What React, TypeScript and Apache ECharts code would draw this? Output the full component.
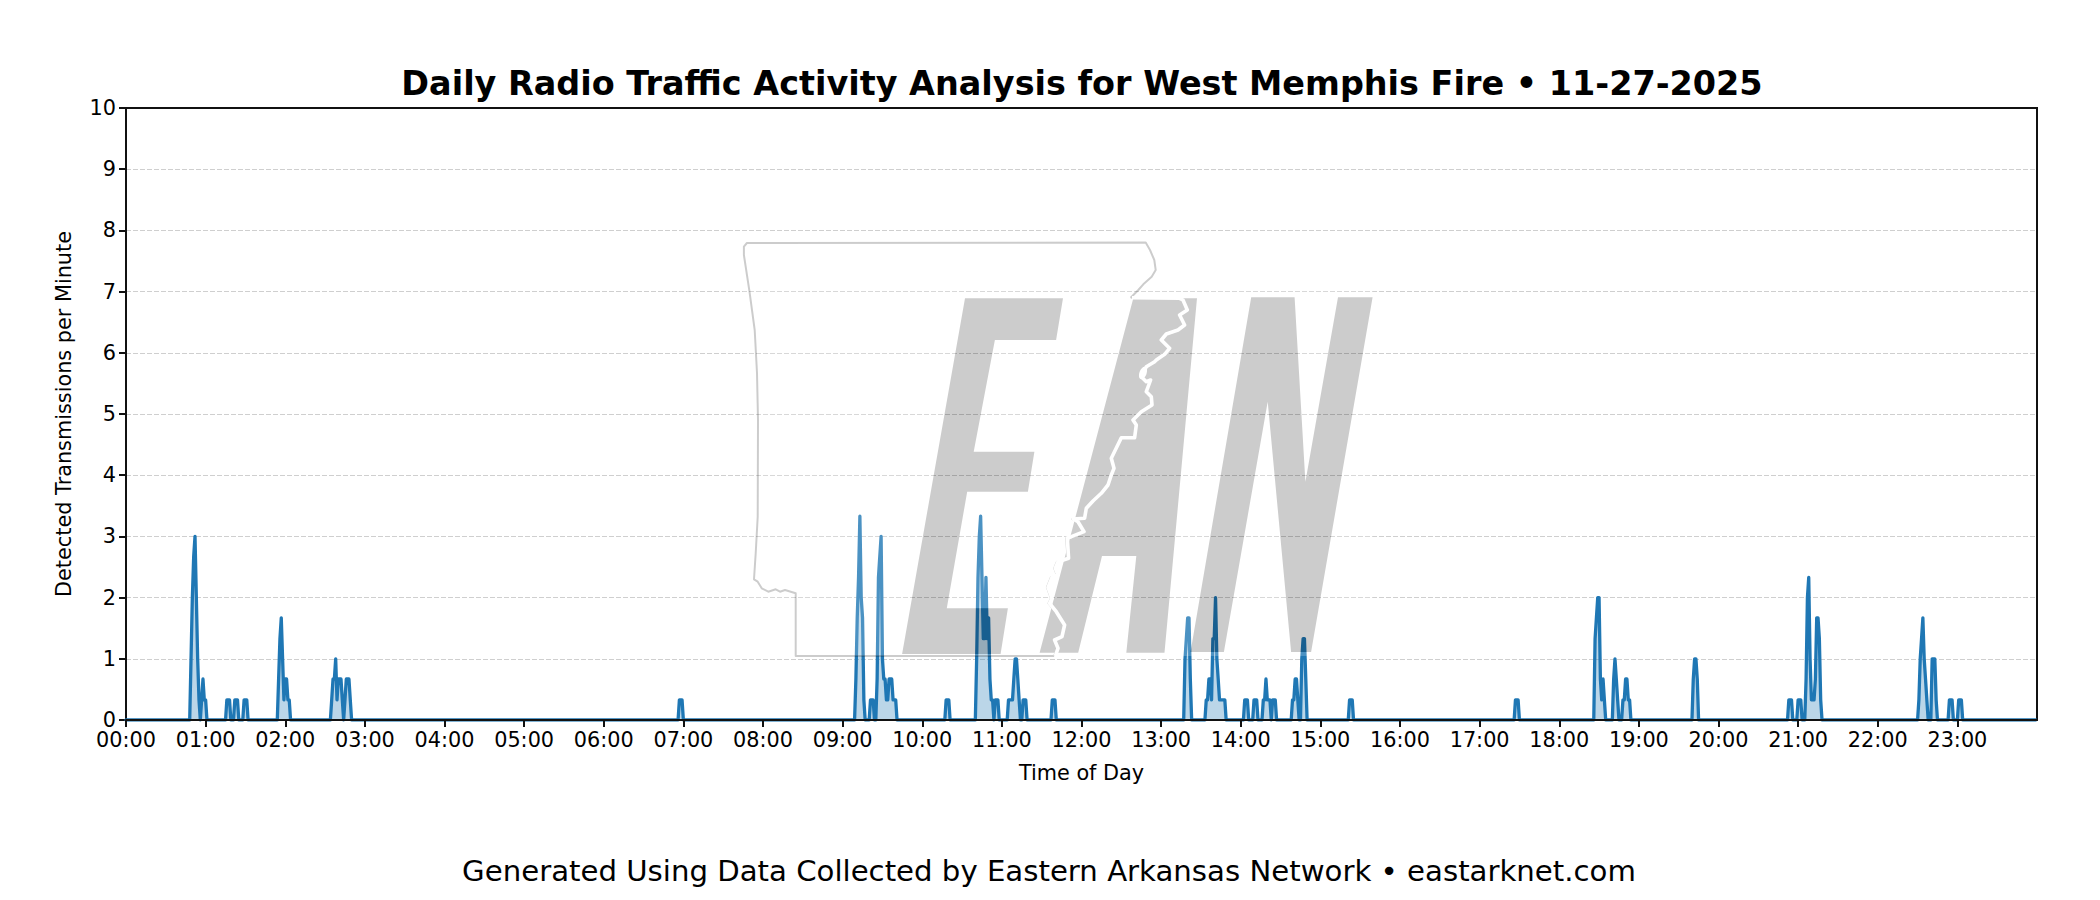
import React, { useEffect, useRef } from "react";
import * as echarts from "echarts";

const titleText = "Daily Radio Traffic Activity Analysis for West Memphis Fire • 11-27-2025";
const footerText = "Generated Using Data Collected by Eastern Arkansas Network • eastarknet.com";
const xName = "Time of Day";
const yName = "Detected Transmissions per Minute";
const yMax = 10;
const tickLabels = ["00:00","01:00","02:00","03:00","04:00","05:00","06:00","07:00","08:00","09:00","10:00","11:00","12:00","13:00","14:00","15:00","16:00","17:00","18:00","19:00","20:00","21:00","22:00","23:00"];

// [minute of day, transmissions per minute]
const overnight = [
  [0,0],[48,0],[49,1],[50,2],[51,2.67],[52,3],[53,2],[54,1],[55,0.33],[56,0],[57,0.33],[58,0.67],[59,0.33],[60,0.33],[61,0],
  [75,0],[76,0.33],[77,0.33],[78,0.33],[79,0],[81,0],[82,0.33],[83,0.33],[84,0.33],[85,0],[88,0],[89,0.33],[90,0.33],[91,0.33],[92,0],
  [114,0],[115,0.67],[116,1.33],[117,1.67],[118,1],[119,0.33],[120,0.67],[121,0.67],[122,0.33],[123,0.33],[124,0],
  [154,0],[155,0.33],[156,0.67],[157,0.67],[158,1],[159,0.33],[160,0.67],[161,0.67],[162,0.67],[163,0.33],[164,0],[165,0.33],[166,0.67],[167,0.67],[168,0.67],[169,0.33],[170,0],
  [416,0],[417,0.33],[418,0.33],[419,0.33],[420,0],
];
const morning = [
  [549,0],[550,0.67],[551,1.67],[552,2.33],[553,3.33],[554,2],[555,1.67],[556,0.33],[557,0],
  [560,0],[561,0.33],[562,0.33],[563,0.33],[564,0],
  [565,0],[566,0.67],[567,2.33],[568,2.67],[569,3],[570,1],[571,0.67],[572,0.67],[573,0.33],[574,0.33],[575,0.67],[576,0.67],[577,0.67],[578,0.33],[579,0.33],[580,0.33],[581,0],
  [617,0],[618,0.33],[619,0.33],[620,0.33],[621,0],
  [640,0],[641,1],[642,2.33],[643,3],[644,3.33],[645,2.33],[646,1.33],[647,1.33],[648,2.33],[649,1.33],[650,1.67],[651,0.67],[652,0.33],[653,0.33],[654,0],[655,0.33],[656,0.33],[657,0.33],[658,0],
  [664,0],[665,0.33],[666,0.33],[667,0.33],[668,0.33],[669,0.67],[670,1],[671,1],[672,0.67],[673,0.33],[674,0],[675,0],[676,0.33],[677,0.33],[678,0.33],[679,0],
  [697,0],[698,0.33],[699,0.33],[700,0.33],[701,0],
];
const afternoon = [
  [797,0],[798,1],[799,1.33],[800,1.67],[801,1.67],[802,0.67],[803,0],
  [813,0],[814,0.33],[815,0.33],[816,0.67],[817,0.67],[818,0.33],[819,1.33],[820,1.33],[821,2],[822,1],[823,0.67],[824,0.33],[825,0.33],[826,0.33],[827,0.33],[828,0.33],[829,0],
  [842,0],[843,0.33],[844,0.33],[845,0.33],[846,0],[849,0],[850,0.33],[851,0.33],[852,0.33],[853,0],
  [856,0],[857,0.33],[858,0.33],[859,0.67],[860,0.33],[861,0.33],[862,0.33],[863,0],[864,0.33],[865,0.33],[866,0.33],[867,0],
  [878,0],[879,0.33],[880,0.33],[881,0.67],[882,0.67],[883,0.33],[884,0],[885,0],[886,1],[887,1.33],[888,1.33],[889,0.67],[890,0],
  [921,0],[922,0.33],[923,0.33],[924,0.33],[925,0],
];
const evening = [
  [1046,0],[1047,0.33],[1048,0.33],[1049,0.33],[1050,0],
  [1106,0],[1107,1.33],[1108,1.67],[1109,2],[1110,2],[1111,0.67],[1112,0.33],[1113,0.67],[1114,0.33],[1115,0],
  [1120,0],[1121,0.67],[1122,1],[1123,0.67],[1124,0.33],[1125,0],
  [1127,0],[1128,0.33],[1129,0.33],[1130,0.67],[1131,0.67],[1132,0.33],[1133,0.33],[1134,0],
  [1180,0],[1181,0.67],[1182,1],[1183,1],[1184,0.67],[1185,0],
  [1252,0],[1253,0.33],[1254,0.33],[1255,0.33],[1256,0],[1259,0],[1260,0.33],[1261,0.33],[1262,0.33],[1263,0],
  [1265,0],[1266,0.67],[1267,2],[1268,2.33],[1269,1],[1270,0.33],[1271,0.33],[1272,0.33],[1273,0.67],[1274,1.67],[1275,1.67],[1276,1.33],[1277,0.33],[1278,0],
  [1350,0],[1351,0.33],[1352,1],[1353,1.33],[1354,1.67],[1355,1],[1356,0.67],[1357,0.33],[1358,0],
  [1360,0],[1361,1],[1362,1],[1363,1],[1364,0.33],[1365,0],
  [1373,0],[1374,0.33],[1375,0.33],[1376,0.33],[1377,0],[1380,0],[1381,0.33],[1382,0.33],[1383,0.33],[1384,0],[1439,0],
];

// Watermark outlines, in page pixels.
type Pt = number[];
const toPath = (pts: Pt[], reverse = false, close = true) => {
  const p = reverse ? [...pts].reverse() : pts;
  return p.map((q, i) => (i ? "L" : "M") + q[0] + " " + q[1]).join(" ") + (close ? " Z" : "");
};
const letterE: Pt[] = [[965,298.3],[1063,298.3],[1056.1,340],[994.9,340],[973.7,451.7],[1034.4,451.7],[1027.9,491.7],[967.2,491.7],[946.8,608.3],[1007.9,608.3],[1000.6,654],[902.1,654]];
const letterA: Pt[] = [[1039.6,652.7],[1133.3,298.3],[1197,298.3],[1164.5,652.7],[1126.3,652.7],[1136.3,556],[1102,556],[1078.2,652.7]];
const counterA: Pt[] = [[1155.8,340],[1141.9,515],[1111.2,515]];
const letterN: Pt[] = [[1190.5,652],[1251.2,297.3],[1294.6,297.3],[1305.4,481.7],[1338,297.3],[1372.6,297.3],[1311.1,652],[1291.1,652],[1267.7,401.7],[1223.9,652]];
const veilBox: Pt[] = [[743,243],[1373,243],[1373,656],[743,656]];
const westBorder: Pt[] = [[1054,656],[795.7,656],[795.7,593.3],[785,590],[780,591.7],[775.7,589.3],[768.3,591.7],[761.7,588.3],[757.7,581.7],[754,579.3],[755.7,553.3],[757.7,516.7],[758,420],[757,373],[754.7,330],[749.5,291.7],[743.9,255],[743.9,246.7],[746.9,243],[1145.7,242.5],[1150,250],[1154.3,260],[1155.7,270],[1151.7,276.7],[1143.3,284.3],[1138.3,290],[1130.7,297.7]];
const river: Pt[] = [[1130.7,297.7],[1178.3,298.3],[1181.7,300],[1186,310],[1178.3,315],[1183.3,325],[1176.7,330],[1165,334],[1160,340],[1168.3,348.3],[1163.3,354.3],[1155,360],[1153.3,361.7],[1145,366.7],[1140,376.7],[1145,381.7],[1149.3,380],[1145,391.7],[1150,396.7],[1150.7,405],[1140,411.7],[1131.7,420],[1135,425],[1133.3,437.7],[1120,437.7],[1110,458.3],[1112.7,468.3],[1110,475],[1106.7,485],[1100,493.3],[1091.7,501],[1085,508.3],[1083.3,518.3],[1071.7,519],[1076.7,521.7],[1082.7,531.7],[1070,536.7],[1066,538],[1067.3,558.3],[1056.7,561.7],[1054,568.3],[1056.7,575],[1050.7,577.3],[1046.7,587.3],[1050.7,598.3],[1048.3,603.3],[1055,611.7],[1063.3,625],[1060.7,636.7],[1053.3,640],[1056.7,648.3],[1054,656]];

const lettersPath = [toPath(letterE), toPath(letterA), toPath(counterA), toPath(letterN)].join(" ");
const veilPath = [toPath(veilBox), toPath(letterE, true), toPath(letterA, true), toPath(counterA, true), toPath(letterN, true)].join(" ");
const westPath = toPath(westBorder, false, false);
const riverPath = toPath(river, false, false);

const FONT = "DejaVu Sans";

export default function App() {
  const ref = useRef<HTMLDivElement>(null);
  useEffect(() => {
    echarts.graphic.registerShape("eanLetters", echarts.graphic.extendPath(lettersPath, {}));
    echarts.graphic.registerShape("eanVeil", echarts.graphic.extendPath(veilPath, {}));
    echarts.graphic.registerShape("eanWest", echarts.graphic.extendPath(westPath, {}));
    echarts.graphic.registerShape("eanRiver", echarts.graphic.extendPath(riverPath, {}));
    const chart = echarts.init(ref.current!, null, { renderer: "svg" });
    const points = [...overnight, ...morning, ...afternoon, ...evening];
    const hourValues = tickLabels.map((_, i) => i * 60);
    chart.setOption({
      animation: false,
      backgroundColor: "#ffffff",
      title: [
        { text: titleText, left: 1077, top: 62, textAlign: "center",
          textStyle: { fontFamily: FONT, fontSize: 33.45, fontWeight: "bold", color: "#000" } },
        { text: footerText, left: 1044, top: 851, textAlign: "center",
          textStyle: { fontFamily: FONT, fontSize: 29.2, fontWeight: "normal", color: "#000" } },
      ],
      grid: { show: true, left: 126, top: 108, width: 1911, height: 612, borderColor: "#111", borderWidth: 2, backgroundColor: "transparent", containLabel: false },
      xAxis: {
        type: "value", min: 0, max: 1440, z: 5,
        name: xName, nameLocation: "middle", nameGap: 42,
        nameTextStyle: { fontFamily: FONT, fontSize: 20.8, color: "#000" },
        axisLine: { show: true, onZero: false, lineStyle: { color: "#111", width: 2 } },
        axisTick: { show: true, customValues: hourValues, length: 7, lineStyle: { color: "#111", width: 2 } },
        axisLabel: { show: true, customValues: hourValues, margin: 9, fontFamily: FONT, fontSize: 20.8, color: "#000",
          formatter: (v: number) => tickLabels[Math.round(v / 60)] ?? "" },
        splitLine: { show: false },
      },
      yAxis: {
        type: "value", min: 0, max: yMax, interval: 1,
        name: yName, nameLocation: "middle", nameGap: 52,
        nameTextStyle: { fontFamily: FONT, fontSize: 20.8, color: "#000" },
        axisLine: { show: true, lineStyle: { color: "#111", width: 2 } },
        axisTick: { show: true, length: 7, lineStyle: { color: "#111", width: 2 } },
        axisLabel: { margin: 10, fontFamily: FONT, fontSize: 20.8, color: "#000" },
        splitLine: { show: true, showMaxLine: false, showMinLine: false, lineStyle: { color: "#cfcfcf", width: 1, type: [5, 2] } },
      },
      series: [
        {
          type: "line", data: points, showSymbol: false, symbol: "none", smooth: false, clip: true, z: 2,
          lineStyle: { color: "#1f77b4", width: 3.3, join: "round", cap: "round" },
          areaStyle: { color: "#1f77b4", opacity: 0.3 },
          itemStyle: { color: "#1f77b4" },
        },
      ],
      graphic: {
        elements: [
          { type: "eanVeil", x: 0, y: 0, z: 100, silent: true, style: { fill: "rgba(255,255,255,0.2)" } },
          { type: "eanLetters", x: 0, y: 0, z: 101, silent: true, style: { fill: "rgba(0,0,0,0.2)" } },
          { type: "eanWest", x: 0, y: 0, z: 102, silent: true, style: { fill: "none", stroke: "rgba(0,0,0,0.2)", lineWidth: 2, lineJoin: "round" } },
          { type: "eanRiver", x: 0, y: 0, z: 103, silent: true, style: { fill: "none", stroke: "#ccc", lineWidth: 1.6, lineJoin: "round" } },
          { type: "eanRiver", x: 1.3, y: 0, z: 104, silent: true, style: { fill: "none", stroke: "#ffffff", lineWidth: 3.6, lineJoin: "round" } },
          { type: "ellipse", z: 104, silent: true, shape: { cx: 1143.5, cy: 373, rx: 3.6, ry: 6.5 }, rotation: -0.35, originX: 1143.5, originY: 373, style: { fill: "#ffffff" } },
        ],
      },
    });
    return () => chart.dispose();
  }, []);
  return <div ref={ref} style={{ position: "absolute", left: 0, top: 0, width: 2100, height: 900 }} />;
}
